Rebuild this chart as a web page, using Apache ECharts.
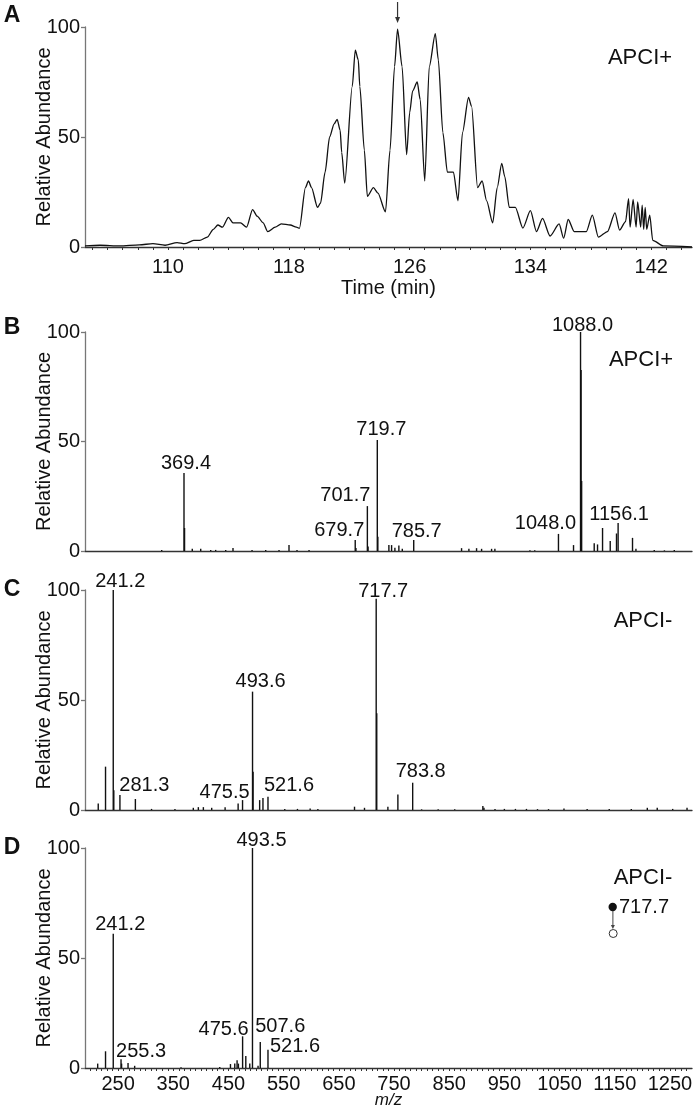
<!DOCTYPE html>
<html><head><meta charset="utf-8">
<script src="https://cdn.jsdelivr.net/npm/echarts@6/dist/echarts.min.js"></script>
<style>html,body{margin:0;padding:0;background:#fff}#c{width:697px;height:1116px}</style>
</head><body><div id="c"></div><script>
const FONT = 'Liberation Sans, Arial, Helvetica, sans-serif';

// ---- Panel A: chromatogram (time, relative abundance)
const timeMin = [104.5,105.5,106.8,108.1,109.0,109.8,110.6,111.1,111.7,112.1,112.6,113.0,113.3,113.6,114.0,114.3,114.8,115.2,115.6,115.9,116.3,116.6,117.1,117.5,118.1,118.5,118.7,119.1,119.3,119.5,119.9,120.1,120.4,120.7,121.0,121.2,121.4,121.5,121.7,122.2,122.4,122.6,122.7,123.0,123.2,123.6,123.9,124.4,124.7,125.0,125.2,125.5,125.8,126.0,126.2,126.5,126.7,127.0,127.3,127.7,127.9,128.2,128.5,128.9,129.2,129.5,129.9,130.1,130.5,130.8,131.1,131.5,131.8,132.1,132.3,132.6,133.0,133.5,134.0,134.4,134.8,135.3,135.9,136.2,136.5,136.9,137.7,138.1,138.5,139.1,139.6,139.9,140.3,140.5,140.6,140.8,141.0,141.1,141.3,141.4,141.5,141.6,141.7,141.9,142.1,142.8,144.7];
const ticAbund = [0.5,0.8,0.5,1,1.5,0.8,2,1.5,3,3,4.5,8,10,9,13.5,11,11,9,17,14,11,7,9,10.5,10,9,8.5,27,30,27,18,20,34,50,56,58,53,43,29,73,89.5,85,73,44,23,27,24.5,16,44,82,99,82,42,61,71,75,67,30,82,97,85,52,34,34,21,52,68,64,27,30,21,11,27,38,32,18,18,8.6,16.5,7,13,5,10.5,4,12.5,7,7,14.5,4.5,7,15.5,7.7,11.5,22,9,21.6,9,20.5,9,19,8,18,8,14.5,3,0.5,0];
const timeTickLabels = [110,118,126,134,142];
const arrowTime = 125.2;

// ---- Panel B: APCI+ spectrum
const bMz  = [329.0,369.4,370.4,384.4,399.7,417.8,426.8,445.0,458.2,492.7,517.5,541.6,559.7,574.2,596.0,679.7,681.0,701.7,703.0,719.7,720.7,740.7,745.6,751.6,758.8,765.0,785.7,872.4,885.7,899.6,908.7,926.8,932.8,996.3,1005.0,1048.0,1075.3,1088.0,1089.0,1090.0,1112.8,1118.8,1127.9,1141.8,1153.2,1156.1,1182.2,1188.4,1221.6,1240.0,1257.9];
const bInt = [0.5,35.6,10.5,1,1,0.5,0.5,0.5,1.4,0.5,0.5,0.5,2.7,0.5,0.5,5,1.4,20.5,2,50.7,6.5,2.7,2.7,1.5,2.5,1,5,1.3,1,1.3,1,1,1,0.3,0.3,7.8,2.7,100,82.6,32,3.5,3,10.5,4.6,8,12.8,6,1,0.5,0.3,0.5];
const bLabels = [369.4,679.7,701.7,719.7,785.7,1048.0,1088.0,1156.1];

// ---- Panel C: APCI- spectrum
const cMz  = [214.0,227.2,241.2,242.2,253.3,281.3,310.6,353.0,386.3,395.4,404.5,419.6,443.9,467.5,475.5,493.6,494.6,506.5,512.5,521.6,552,575,598,612,678.4,696.5,717.7,718.7,738.9,757.0,783.8,800,830,860,911.0,913.0,933,950,970,990,1010,1030,1058,1100,1140,1180,1209,1227,1255,1281];
const cInt = [3,19.7,100,9,6.8,5,0.5,0.5,1,1.3,1.3,1,1.3,3,4.5,53.8,17.4,4.5,5.4,6,0.5,0.5,0.7,0.5,1.5,1,96,44,1.5,7,12.4,0.3,0.3,0.3,1.8,1,0.5,0.5,0.5,0.5,0.4,0.4,0.7,0.5,0.5,0.5,1,1,0.5,1];
const cLabels = [241.2,281.3,475.5,493.6,521.6,717.7,783.8];

// ---- Panel D: MS/MS of 717.7 (APCI-)
const dMz  = [213.0,227.2,241.2,255.3,256.3,268.0,280.0,364.0,434.2,453.6,461.4,465.6,468.0,475.6,481.4,488.6,493.5,503.6,507.6,521.6];
const dInt = [2,7.6,61,4,2,2.3,1,0.3,0.5,1.8,2.1,3.5,2,14.4,5.4,2,100,1,11.8,8.3];
const dLabels = [241.2,255.3,475.6,493.5,507.6,521.6];

const mzTickLabels = [250,350,450,550,650,750,850,950,1050,1150,1250];
const abundTicks = [0,50,100];

// ---- styling (label offsets, layout)
const bOffsets = [[2,0],[-16,0],[-22,-1],[4,0],[3,1],[-13,0],[2,3],[1,2]];
const cOffsets = [[7,1],[9,-4],[-18,2],[8,0],[21,-1.5],[7,2.5],[8,-1]];
const dOffsets = [[7,1],[20,2],[-19,3.5],[9,2],[20,-6],[27,6.5]];

function range(a,b,s){const r=[];for(let v=a; v<=b+1e-9; v+=s) r.push(Math.round(v*10)/10);return r;}
const plain = v => String(v);

function peakData(mz, ints, labels, offsets){
  return mz.map((m,i)=>{
    const li = labels.indexOf(m);
    const item = {value:[m, ints[i]]};
    if(li>=0){ item.label = {show:true, formatter: m.toFixed(1), offset: offsets[li]}; }
    return item;
  });
}

const grids = [
  {left:85, top:27, width:607, height:220},
  {left:85, top:332, width:607, height:219},
  {left:85, top:590, width:607, height:220},
  {left:85, top:848, width:607, height:220}
];

function yAx(i){return {gridIndex:i, type:'value', min:0, max:100,
  axisLine:{show:true, lineStyle:{color:'#777', width:1.3}},
  axisTick:{show:true, length:4, customValues:abundTicks, lineStyle:{color:'#777', width:1.3}},
  axisLabel:{fontSize:20, color:'#111', margin:5, fontFamily:FONT, customValues:abundTicks, formatter:plain},
  splitLine:{show:false},
  name:'Relative Abundance', nameLocation:'middle', nameGap:31, nameMoveOverlap:false,
  nameTextStyle:{fontSize:20, color:'#111', fontFamily:FONT}};}

const xLine = {show:true, lineStyle:{color:'#333', width:1.3}};

const xAxes = [
  {gridIndex:0, type:'value', min:104.5, max:144.7,
   axisLine:xLine,
   axisTick:{show:true, length:3, customValues:range(105,144,1), lineStyle:{color:'#333', width:1}},
   axisLabel:{show:true, customValues:timeTickLabels, formatter:plain, fontSize:20, color:'#111', margin:10, fontFamily:FONT},
   splitLine:{show:false},
   name:'Time (min)', nameLocation:'middle', nameGap:31, nameMoveOverlap:false,
   nameTextStyle:{fontSize:20, color:'#111', fontFamily:FONT}},
  {gridIndex:1, type:'value', min:190, max:1290, axisLine:xLine, axisTick:{show:false}, axisLabel:{show:false}, splitLine:{show:false}},
  {gridIndex:2, type:'value', min:190, max:1290, axisLine:xLine, axisTick:{show:false}, axisLabel:{show:false}, splitLine:{show:false}},
  {gridIndex:3, type:'value', min:190, max:1290,
   axisLine:xLine,
   axisTick:{show:true, length:3, customValues:range(200,1280,10), lineStyle:{color:'#333', width:1}},
   axisLabel:{show:true, customValues:mzTickLabels, formatter:plain, fontSize:20, color:'#111', margin:6, fontFamily:FONT},
   splitLine:{show:false},
   name:'m/z', nameLocation:'middle', nameGap:24, nameMoveOverlap:false,
   nameTextStyle:{fontSize:17, fontStyle:'italic', color:'#111', fontFamily:FONT}}
];

function specSeries(k, data){
  return {type:'bar', xAxisIndex:k, yAxisIndex:k, data:data, barWidth:1.4,
    itemStyle:{color:'#111'}, silent:true,
    label:{show:false, position:'top', distance:0, fontSize:20, color:'#111', fontFamily:FONT}};
}

const chart = echarts.init(document.getElementById('c'), null, {renderer:'canvas'});
chart.setOption({
  animation:false,
  backgroundColor:'#fff',
  grid:grids,
  xAxis:xAxes,
  yAxis:[yAx(0),yAx(1),yAx(2),yAx(3)],
  series:[
    {type:'line', xAxisIndex:0, yAxisIndex:0, data: timeMin.map((t,i)=>[t, ticAbund[i]]),
     showSymbol:false, symbol:'none', smooth:0.25, smoothMonotone:'x',
     lineStyle:{color:'#111', width:1.3}, silent:true},
    specSeries(1, peakData(bMz, bInt, bLabels, bOffsets)),
    specSeries(2, peakData(cMz, cInt, cLabels, cOffsets)),
    specSeries(3, peakData(dMz, dInt, dLabels, dOffsets))
  ]
});

const ap = chart.convertToPixel({gridIndex:0}, [arrowTime, 100]);
function txt(text, x, y, size, weight, align){
  return {type:'text', x:x, y:y, silent:true,
    style:{text:text, fontSize:size, fontWeight:weight||'normal', fontFamily:FONT, fill:'#111',
      align:align||'center', verticalAlign:'middle'}};
}
chart.setOption({graphic:[
  txt('A', 12, 16, 23, 'bold'),
  txt('B', 12, 328, 23, 'bold'),
  txt('C', 12, 590, 23, 'bold'),
  txt('D', 12, 848, 23, 'bold'),
  txt('APCI+', 640, 58, 22),
  txt('APCI+', 641, 359.5, 22),
  txt('APCI-', 643, 620.5, 22),
  txt('APCI-', 643, 878, 22),
  {type:'line', silent:true, shape:{x1:ap[0], y1:2, x2:ap[0], y2:19}, style:{stroke:'#333', lineWidth:1.2}},
  {type:'polygon', silent:true, shape:{points:[[ap[0]-2.5,17],[ap[0]+2.5,17],[ap[0],23]]}, style:{fill:'#333'}},
  {type:'circle', silent:true, shape:{cx:612.7, cy:907, r:4.2}, style:{fill:'#111'}},
  {type:'line', silent:true, shape:{x1:612.9, y1:911, x2:612.9, y2:926}, style:{stroke:'#444', lineWidth:1}},
  {type:'polygon', silent:true, shape:{points:[[610.9,925],[614.9,925],[612.9,929]]}, style:{fill:'#444'}},
  {type:'circle', silent:true, shape:{cx:613.2, cy:933.5, r:4}, style:{fill:'#fff', stroke:'#333', lineWidth:1}},
  txt('717.7', 619, 907, 20, 'normal', 'left')
]});
</script></body></html>
